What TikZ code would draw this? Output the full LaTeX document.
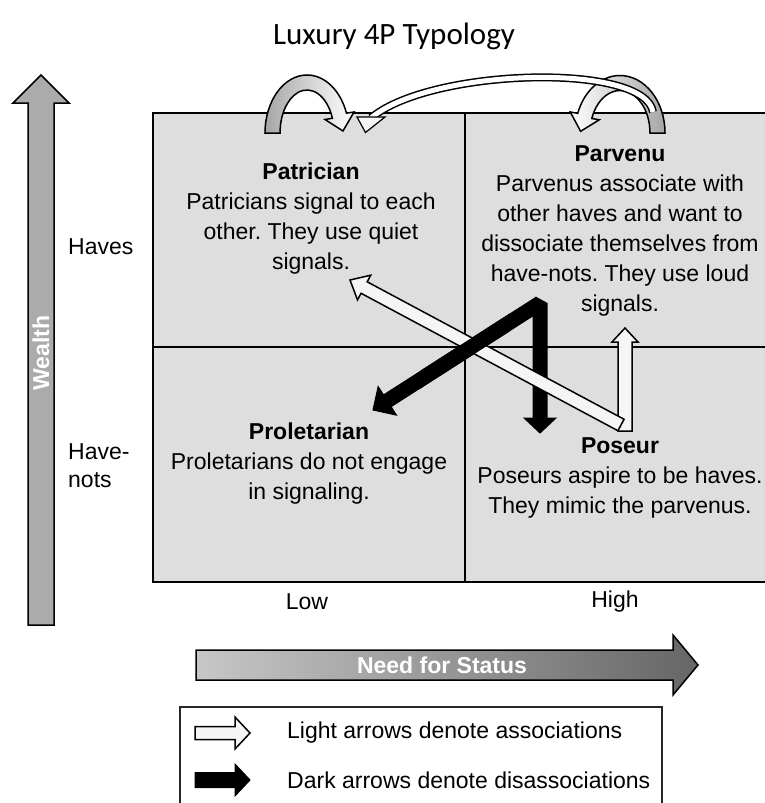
\documentclass[tikz,border=0pt]{standalone}
\usepackage{fontspec}
\setmainfont{Liberation Sans}
\newfontfamily\titlefont{Carlito}
\usepackage{tikz}
\usetikzlibrary{calc, positioning}
\tikzstyle{quadrant} = [rectangle,
                        minimum width=312pt,
                        minimum height=234pt,
                        inner sep=0pt,
                        fill=black!13,
                        draw=black,
                        line width=2pt,
                       ]
\tikzstyle{quadtext} = [align=center,
                        inner sep=0pt,
                        font=\fontsize{23}{30}\selectfont,
                       ]
\tikzstyle{axislabel} = [align=left,
                         anchor=west,
                         inner sep=0pt,
                         font=\fontsize{23}{28}\selectfont,
                        ]
\tikzstyle{axistitle} = [text=white,
                         inner sep=0pt,
                         font=\bfseries\fontsize{23}{28}\selectfont,
                        ]
\tikzstyle{legendtext} = [anchor=west,
                          inner sep=0pt,
                          font=\fontsize{23}{28}\selectfont,
                         ]
\tikzstyle{legendbox} = [rectangle,
                         minimum width=482pt,
                         minimum height=113pt,
                         draw=black!85,
                         line width=2pt,
                        ]
\tikzstyle{lightarrow} = [fill=black!4, draw=black, line width=1.5pt, line join=miter]
\tikzstyle{darkarrow} = [fill=black, draw=black, line width=1pt, line join=miter]
\tikzstyle{loopband} = [draw=black, line width=1.5pt]
\tikzstyle{darkline} = [line width=15pt, line join=bevel]

\newcommand{\fatarrow}[6]{%
  \path[#1] ($(#2)!#4!90:(#3)$) -- ($(#3)!#5!(#2)!#4!-90:(#2)$)
    -- ($(#3)!#5!(#2)!#6!-90:(#2)$) -- (#3)
    -- ($(#3)!#5!(#2)!#6!90:(#2)$) -- ($(#3)!#5!(#2)!#4!90:(#2)$)
    -- ($(#2)!#4!-90:(#3)$) -- cycle;}
\newcommand{\fathead}[5]{%
  \path[#1] (#2) -- ($(#2)!#4!(#3)!#5!90:(#3)$) -- ($(#2)!#4!(#3)!#5!-90:(#3)$) -- cycle;}

\begin{document}
\frenchspacing
\begin{tikzpicture}[x=1pt, y=-1pt]
\useasboundingbox (0,0) rectangle (764,803);

\node (title) [font=\titlefont\fontsize{31}{36}\selectfont] at (394,36) {Luxury 4P Typology};

\node (patrician) [quadrant] at (309,230) {};
\node (parvenu) [quadrant, minimum width=305pt] at (617.5,230) {};
\node (proletarian) [quadrant, minimum height=235pt] at (309,464.5) {};
\node (poseur) [quadrant, minimum width=305pt, minimum height=235pt] at (617.5,464.5) {};

\path [loopband, left color=black!35, right color=white] (265,133)
  arc[start angle=180, end angle=340, x radius=42, y radius=58]
  -- (354,112) -- (343,131) -- (325,119.5) -- (332.4,118.3)
  arc[start angle=340, end angle=180, x radius=27, y radius=43] -- cycle;
\path [loopband, left color=white, right color=black!35] (665,133)
  arc[start angle=360, end angle=200, x radius=45, y radius=57.5]
  -- (570.3,112) -- (580.6,131.3) -- (599.3,119.8) -- (591.8,118.5)
  arc[start angle=200, end angle=360, x radius=30, y radius=42.5] -- cycle;

\coordinate (parvbase) at (653,112);
\coordinate (patrhead) at (371,118);
\draw [line width=8pt, black] (parvbase) .. controls (645,62) and (430,68) .. (patrhead);
\draw [line width=5pt, white] (parvbase) .. controls (645,62) and (430,68) .. (patrhead);
\path [lightarrow, line width=1.2pt] (357,117) -- (365.5,132.5) -- (385,117) -- cycle;

\node (patrtext) [quadtext] at (311,219) {\textbf{Patrician}\\Patricians signal to each\\other. They use quiet\\signals.};
\node (parvtext) [quadtext] at (620,231) {\textbf{Parvenu}\\Parvenus associate with\\other haves and want to\\dissociate themselves from\\have-nots. They use loud\\signals.};
\node (proltext) [quadtext] at (309,464) {\textbf{Proletarian}\\Proletarians do not engage\\in signaling.};
\node (postext) [quadtext] at (620,478) {\textbf{Poseur}\\Poseurs aspire to be haves.\\They mimic the parvenus.};

\coordinate (wealthfrom) at (41,625);
\coordinate (wealthto) at (41,75);
\fatarrow{draw=black, line width=1.5pt, fill=black!33}{wealthfrom}{wealthto}{13pt}{28pt}{28pt}
\node (wealth) [axistitle, rotate=90] at (41,353) {Wealth};
\node (haves) [axislabel] at (68,247) {Haves};
\node (havenots) [axislabel] at (68,466) {Have-\\nots};

\node (low) [quadtext] at (307,602) {Low};
\node (high) [quadtext] at (615,602) {High};

\coordinate (statusfrom) at (196,665);
\coordinate (statusto) at (698,665);
\fatarrow{draw=black, line width=1.5pt, left color=black!22, right color=black!60}{statusfrom}{statusto}{15pt}{25pt}{30pt}
\node (status) [axistitle] at (442,665) {Need for Status};

\coordinate (posvert) at (625,431);
\coordinate (parvtip) at (625,328);
\fatarrow{lightarrow}{posvert}{parvtip}{7pt}{14pt}{13pt}

\coordinate (parvapex) at (540,303);
\coordinate (proltip) at (373,410);
\coordinate (postip) at (540,433);
\draw [darkline] ($(proltip)!16pt!(parvapex)$) -- (parvapex) -- ($(postip)!15pt!(parvapex)$);
\fathead{darkarrow}{proltip}{parvapex}{17pt}{17pt}
\fathead{darkarrow}{postip}{parvapex}{15pt}{16pt}

\coordinate (posdiag) at (621,425);
\coordinate (patrtip) at (350,280);
\fatarrow{lightarrow}{posdiag}{patrtip}{6.5pt}{16pt}{14pt}

\begin{scope}
\clip (420,310) rectangle (510,390);
\draw [darkline] ($(proltip)!16pt!(parvapex)$) -- (parvapex);
\end{scope}

\node (legend) [legendbox] at (421,763.5) {};
\coordinate (lightfrom) at (195,733);
\coordinate (lightto) at (250,733);
\fatarrow{lightarrow}{lightfrom}{lightto}{6.5pt}{15pt}{16pt}
\node (lighttext) [legendtext] at (287,733) {Light arrows denote associations};
\coordinate (darkfrom) at (195,780);
\coordinate (darkto) at (250,780);
\fatarrow{darkarrow}{darkfrom}{darkto}{7.5pt}{15pt}{16pt}
\node (darktext) [legendtext] at (287,780) {Dark arrows denote disassociations};

\end{tikzpicture}
\end{document}
